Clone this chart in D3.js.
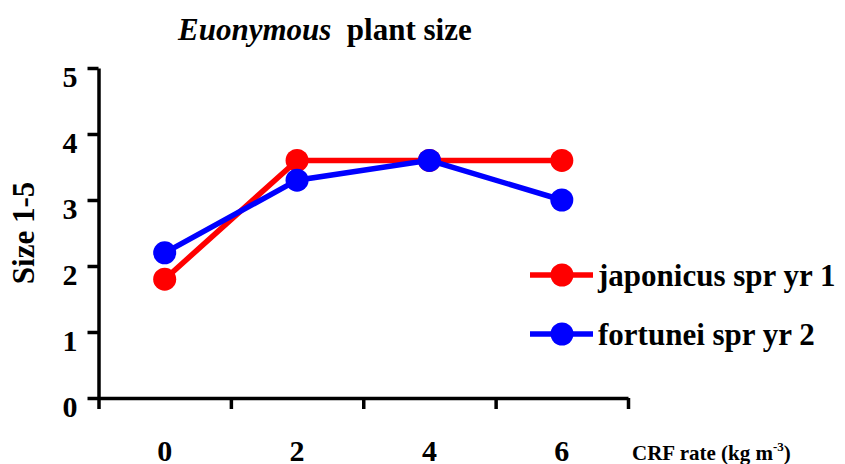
<!DOCTYPE html>
<html>
<head>
<meta charset="utf-8">
<script src="https://cdn.jsdelivr.net/npm/d3@7"></script>
<style>
  html, body { margin: 0; padding: 0; background: #fff; }
  svg text { font-family: "Liberation Serif", "Times New Roman", serif; font-weight: bold; fill: #000; }
</style>
</head>
<body>
<svg id="chart" width="845" height="464"></svg>
<script>
// CRF application rates (kg m-3) and mean plant size scores
const rates = ["0", "2", "4", "6"];
const japonicusYr1 = [1.8, 3.6, 3.6, 3.6];
const fortuneiYr2 = [2.2, 3.3, 3.6, 3.0];
const sizeTicks = [0, 1, 2, 3, 4, 5];
const seriesNames = ["japonicus spr yr 1", "fortunei spr yr 2"];
const seriesColors = ["#ff0000", "#0000ff"];

const svg = d3.select("#chart");
const plotLeft = 98.5, plotRight = 628, plotTop = 68, plotBottom = 398;

const x = d3.scaleBand().domain(rates).range([plotLeft, plotRight]).padding(0);
const xEdge = d3.scaleLinear().domain([0, rates.length]).range([plotLeft, plotRight]);
const y = d3.scaleLinear().domain([0, 5]).range([plotBottom, plotTop]);

// Title
const title = svg.append("text").attr("x", 178).attr("y", 40).style("font-size", "31px");
title.append("tspan").style("font-style", "italic").text("Euonymous");
title.append("tspan").text("\u00a0 plant size");

// Y axis
const yAxis = svg.append("g")
  .attr("transform", `translate(${plotLeft},0)`)
  .call(d3.axisLeft(y).tickValues(sizeTicks).tickFormat(d3.format("d")).tickSize(11).tickSizeOuter(0).tickPadding(10));
yAxis.select(".domain").attr("stroke", "#000").attr("stroke-width", 3.5);
yAxis.selectAll(".tick line").attr("stroke", "#000").attr("stroke-width", 3.5);
yAxis.selectAll(".tick text")
  .attr("dy", "0.62em")
  .style("font-size", "30px")
  .style("font-family", "'Liberation Serif', 'Times New Roman', serif")
  .style("font-weight", "bold");

// X axis: ticks at category boundaries
const xAxis = svg.append("g")
  .attr("transform", `translate(0,${plotBottom})`)
  .call(d3.axisBottom(xEdge).tickValues(d3.range(rates.length + 1)).tickFormat("").tickSize(11).tickSizeOuter(0));
xAxis.select(".domain").attr("stroke", "#000").attr("stroke-width", 3.5);
xAxis.selectAll(".tick line").attr("stroke", "#000").attr("stroke-width", 3.5);

// Category labels centred in each band
svg.append("g").selectAll("text")
  .data(rates)
  .join("text")
  .attr("x", d => x(d) + x.bandwidth() / 2)
  .attr("y", 461)
  .attr("text-anchor", "middle")
  .style("font-size", "30px")
  .text(d => d);

// X axis title
const xt = svg.append("text").attr("x", 632).attr("y", 460).style("font-size", "21px");
xt.append("tspan").text("CRF rate (kg m");
xt.append("tspan").attr("dy", -9).style("font-size", "13px").text("-3");
xt.append("tspan").attr("dy", 9).text(")");

// Y axis title
svg.append("text")
  .attr("transform", "translate(34,233) rotate(-90)")
  .attr("text-anchor", "middle")
  .style("font-size", "31px")
  .text("Size 1-5");

// Series lines and markers
const series = [japonicusYr1, fortuneiYr2];
const line = d3.line()
  .x((d, i) => x(rates[i]) + x.bandwidth() / 2)
  .y(d => y(d));

series.forEach((vals, k) => {
  const g = svg.append("g");
  g.append("path")
    .attr("d", line(vals))
    .attr("fill", "none")
    .attr("stroke", seriesColors[k])
    .attr("stroke-width", 5.5);
  g.selectAll("circle")
    .data(vals)
    .join("circle")
    .attr("cx", (d, i) => x(rates[i]) + x.bandwidth() / 2)
    .attr("cy", d => y(d))
    .attr("r", 11.5)
    .attr("fill", seriesColors[k]);
});

// Legend
const legendRows = [275, 334];
seriesNames.forEach((name, k) => {
  const g = svg.append("g").attr("transform", `translate(0,${legendRows[k]})`);
  g.append("line").attr("x1", 530).attr("x2", 593).attr("y1", 0).attr("y2", 0)
    .attr("stroke", seriesColors[k]).attr("stroke-width", 5.5);
  g.append("circle").attr("cx", 562).attr("cy", 0).attr("r", 11.5).attr("fill", seriesColors[k]);
  g.append("text").attr("x", 598).attr("y", 11).style("font-size", "31px").text(name);
});
</script>
</body>
</html>
